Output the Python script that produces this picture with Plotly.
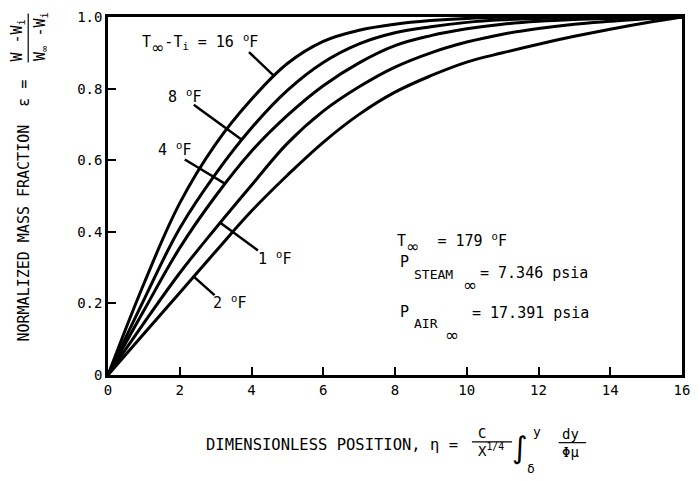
import numpy as np
import plotly.graph_objects as go

# Dimensionless position eta and normalized mass fraction xi for each
# temperature difference T_inf - T_i (deg F)
eta = [0, 1, 2, 3, 4, 5, 6, 7, 8, 9, 10, 11, 12, 13, 14, 15, 16]
xi_16F = [0, 0.255, 0.48, 0.645, 0.77, 0.87, 0.932, 0.963, 0.98, 0.99, 0.996, 0.999, 1.0, 1.0, 1.0, 1.0, 1.0]
xi_8F = [0, 0.21, 0.41, 0.562, 0.69, 0.795, 0.873, 0.925, 0.956, 0.973, 0.985, 0.992, 0.996, 0.998, 0.999, 1.0, 1.0]
xi_4F = [0, 0.18, 0.355, 0.5, 0.625, 0.725, 0.808, 0.872, 0.92, 0.948, 0.967, 0.98, 0.988, 0.993, 0.996, 0.998, 1.0]
xi_1F = [0, 0.145, 0.285, 0.41, 0.53, 0.647, 0.737, 0.805, 0.86, 0.9, 0.93, 0.952, 0.968, 0.98, 0.988, 0.995, 1.0]
xi_2F = [0, 0.115, 0.23, 0.345, 0.458, 0.558, 0.65, 0.728, 0.79, 0.836, 0.874, 0.9, 0.924, 0.946, 0.966, 0.984, 1.0]

x_tickvals = [0, 2, 4, 6, 8, 10, 12, 14, 16]
x_ticktext = ["0", "2", "4", "6", "8", "10", "12", "14", "16"]
y_tickvals = [0, 0.2, 0.4, 0.6, 0.8, 1.0]
y_ticktext = ["0", "0.2", "0.4", "0.6", "0.8", "1.0"]

MONO = "DejaVu Sans Mono, monospace"
SANS = "DejaVu Sans, sans-serif"
NB = "\u00a0"
INF = "<sub><sub><span style='font-family:DejaVu Sans;font-size:16px'>∞</span></sub></sub>"

fig = go.Figure()
for ys in [xi_16F, xi_8F, xi_4F, xi_1F, xi_2F]:
    fig.add_trace(go.Scatter(
        x=eta, y=ys, mode="lines",
        line=dict(color="black", width=3, shape="spline", smoothing=1.1),
        showlegend=False, hoverinfo="skip",
    ))

# Leader lines: from a label position to a point on its curve
leaders = [
    (xi_16F, 4.64, 3.93, 0.902),
    (xi_8F, 3.74, 2.39, 0.755),
    (xi_4F, 3.27, 2.14, 0.602),
    (xi_1F, 3.13, 4.18, 0.348),
    (xi_2F, 2.39, 2.97, 0.223),
]
for ys, xt, x_tail, y_tail in leaders:
    yt = float(np.interp(xt, eta, ys))
    fig.add_shape(type="line", xref="x", yref="y", x0=x_tail, y0=y_tail, x1=xt, y1=yt,
                  line=dict(color="black", width=2.5))

def note(text, x, y, size=15, xanchor="left", yanchor="middle", xref="x", yref="y", angle=0, family=MONO):
    fig.add_annotation(text=text, x=x, y=y, xref=xref, yref=yref, showarrow=False,
                       xanchor=xanchor, yanchor=yanchor, textangle=angle,
                       font=dict(family=family, size=size, color="black"))

sup_F = "<sup>o</sup>F"
# Curve labels
note(f"T{INF}-T<sub>i</sub>{NB}={NB}16{NB}{sup_F}", 0.88, 0.925)
note(f"8{NB}{sup_F}", 1.62, 0.78)
note(f"4{NB}{sup_F}", 1.35, 0.632)
note(f"1{NB}{sup_F}", 4.12, 0.326)
note(f"2{NB}{sup_F}", 2.86, 0.203)

# Free-stream conditions
note(f"T{INF}{NB}{NB}={NB}179{NB}{sup_F}", 8.0, 0.37)
note("P", 8.08, 0.315)
note("STEAM", 8.47, 0.281, size=13)
note("∞", 10.1, 0.252, size=17, xanchor="center", family=SANS)
note(f"={NB}7.346{NB}psia", 10.3, 0.284)
note("P", 8.08, 0.175)
note("AIR", 8.47, 0.145, size=13)
note("∞", 9.6, 0.112, size=17, xanchor="center", family=SANS)
note(f"={NB}17.391{NB}psia", 10.08, 0.173)

# Y axis title with the xi definition as a fraction
note(f"NORMALIZED{NB}MASS{NB}FRACTION{NB}{NB}ε{NB}=", -0.146, 0.46, size=15,
     xanchor="center", xref="paper", yref="paper", angle=-90)
note("W -W<sub>i</sub>", -0.158, 0.935, size=15, xanchor="center", xref="paper", yref="paper", angle=-90)
note("W<sub>∞</sub> -W<sub>i</sub>", -0.118, 0.945, size=15, xanchor="center", xref="paper", yref="paper", angle=-90)
fig.add_shape(type="line", xref="paper", yref="paper", x0=-0.139, x1=-0.139, y0=0.873, y1=1.01,
              line=dict(color="black", width=1.2))

# X axis title with the eta definition
note(f"DIMENSIONLESS{NB}POSITION,{NB}η{NB}=", 0.1667, -0.195, size=15.5, xref="paper", yref="paper")
note("C", 0.651, -0.162, size=14, xanchor="center", xref="paper", yref="paper")
fig.add_shape(type="line", xref="paper", yref="paper", x0=0.634, x1=0.704, y0=-0.187, y1=-0.187,
              line=dict(color="black", width=1.2))
note("X<sup>1/4</sup>", 0.667, -0.209, size=14, xanchor="center", xref="paper", yref="paper")
note("∫", 0.718, -0.203, size=30, xanchor="center", xref="paper", yref="paper", family=SANS)
note("y", 0.747, -0.159, size=13, xanchor="center", xref="paper", yref="paper")
note("δ", 0.737, -0.262, size=13, xanchor="center", xref="paper", yref="paper")
note("dy", 0.806, -0.164, size=14, xanchor="center", xref="paper", yref="paper")
fig.add_shape(type="line", xref="paper", yref="paper", x0=0.785, x1=0.833, y0=-0.189, y1=-0.189,
              line=dict(color="black", width=1.2))
note("Φμ", 0.806, -0.214, size=14, xanchor="center", xref="paper", yref="paper")

axis_common = dict(
    showline=True, linecolor="black", linewidth=2.5, mirror=True,
    ticks="inside", ticklen=8, tickwidth=1.5, tickcolor="black",
    showgrid=False, zeroline=False,
    tickfont=dict(family=MONO, size=14, color="black"),
)
fig.update_xaxes(range=[0, 16], tickvals=x_tickvals, ticktext=x_ticktext, **axis_common)
fig.update_yaxes(range=[0, 1.0], tickvals=y_tickvals, ticktext=y_ticktext, **axis_common)

fig.update_layout(
    width=699, height=481,
    margin=dict(l=108, r=9, t=16, b=106),
    paper_bgcolor="white", plot_bgcolor="white",
    showlegend=False,
)

fig.write_html("out.html")
